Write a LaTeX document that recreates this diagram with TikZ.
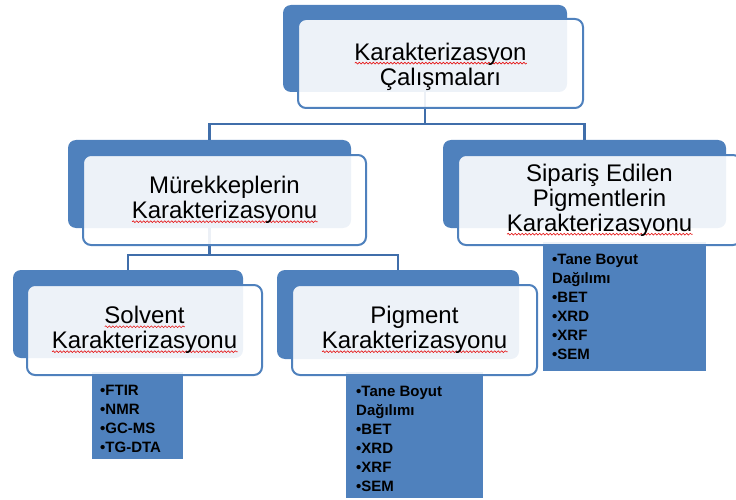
\documentclass[tikz,border=0pt]{standalone}
\usepackage{fontspec}
\setmainfont{Liberation Sans}
\usetikzlibrary{decorations.pathmorphing}
\definecolor{smblue}{RGB}{79,129,189}
\definecolor{connblue}{RGB}{64,110,170}
\definecolor{spellred}{RGB}{230,20,20}
% red wavy underline (spell-check style)
\newlength\spellw
\newcommand\spellwave[1]{\settowidth\spellw{#1}%
  \rlap{\smash{\tikz[baseline=0pt]\draw[spellred, line width=0.6pt, sharp corners,
    decorate, decoration={snake, amplitude=0.9pt, segment length=3.5pt}]
    (0pt,-3pt) -- (\spellw,-3pt);}}#1}
\begin{document}
\begin{tikzpicture}[x=1pt,y=-1pt,
  backbox/.style={fill=smblue, rounded corners=8pt, inner sep=0pt},
  frontbox/.style={draw=smblue, line width=2pt, fill=white, fill opacity=0.9,
    text opacity=1, rounded corners=8pt, inner sep=0pt, align=center,
    font=\fontsize{24}{25}\selectfont},
  titletext/.style={inner sep=0pt, align=center, font=\fontsize{24}{25}\selectfont},
  listbox/.style={fill=smblue, inner sep=0pt, anchor=north west},
  listtext/.style={anchor=north west, inner sep=0pt, align=left,
    font=\fontsize{15}{19}\selectfont\bfseries},
  conn/.style={draw=connblue, line width=2.2pt}]
\useasboundingbox (0,0) rectangle (736,500);
\clip (0,0) rectangle (736,500);

% back plates
\node[backbox, minimum width=284pt, minimum height=87pt] (topB) at (425,48.5) {};
\node[backbox, minimum width=283pt, minimum height=88pt] (murB) at (209.5,184) {};
\node[backbox, minimum width=283pt, minimum height=88pt] (sipB) at (584.5,184) {};
\node[backbox, minimum width=230pt, minimum height=88pt] (solB) at (128,314) {};
\node[backbox, minimum width=242pt, minimum height=89pt] (pigB) at (398,314.5) {};

% tree connectors
\draw[conn] (topB.south) -- ++(0,32) coordinate (j1);
\draw[conn] (j1) -| (murB.north);
\draw[conn] (j1) -| (sipB.north);
\draw[conn] (murB.south) -- ++(0,27) coordinate (j2);
\draw[conn] (j2) -| (solB.north);
\draw[conn] (j2) -| (pigB.north);

% method lists
\node[listbox, minimum width=91pt, minimum height=87pt] (solL) at (92,372) {};
\node[listbox, minimum width=137pt, minimum height=126pt] (pigL) at (346,372) {};
\node[listbox, minimum width=163pt, minimum height=129pt] (sipL) at (543,242) {};
\node[listtext] (solT) at (100,385.3) {•FTIR\\•NMR\\•GC-MS\\•TG-DTA};
\node[listtext] (pigT) at (356,386.3) {•Tane Boyut\\Dağılımı\\•BET\\•XRD\\•XRF\\•SEM};
\node[listtext] (sipT) at (552,254.3) {•Tane Boyut\\Dağılımı\\•BET\\•XRD\\•XRF\\•SEM};

% front panels with titles
\node[frontbox, minimum width=285pt, minimum height=89pt] (topF) at (440.5,63.5) {};
\node[titletext] (topT) at ([yshift=-3pt]topF.center)
  {\spellwave{Karakterizasyon}\\Çalışmaları};
\node[frontbox, minimum width=283pt, minimum height=90pt] (murF) at (224.5,200)
  {Mürekkeplerin\\\spellwave{Karakterizasyonu}};
\node[frontbox, minimum width=283pt, minimum height=90pt] (sipF) at (599.5,200)
  {Sipariş Edilen\\Pigmentlerin\\\spellwave{Karakterizasyonu}};
\node[frontbox, minimum width=235pt, minimum height=90pt] (solF) at (144.5,330)
  {\spellwave{Solvent}\\\spellwave{Karakterizasyonu}};
\node[frontbox, minimum width=245pt, minimum height=90pt] (pigF) at (414.5,330)
  {Pigment\\\spellwave{Karakterizasyonu}};
\end{tikzpicture}
\end{document}
